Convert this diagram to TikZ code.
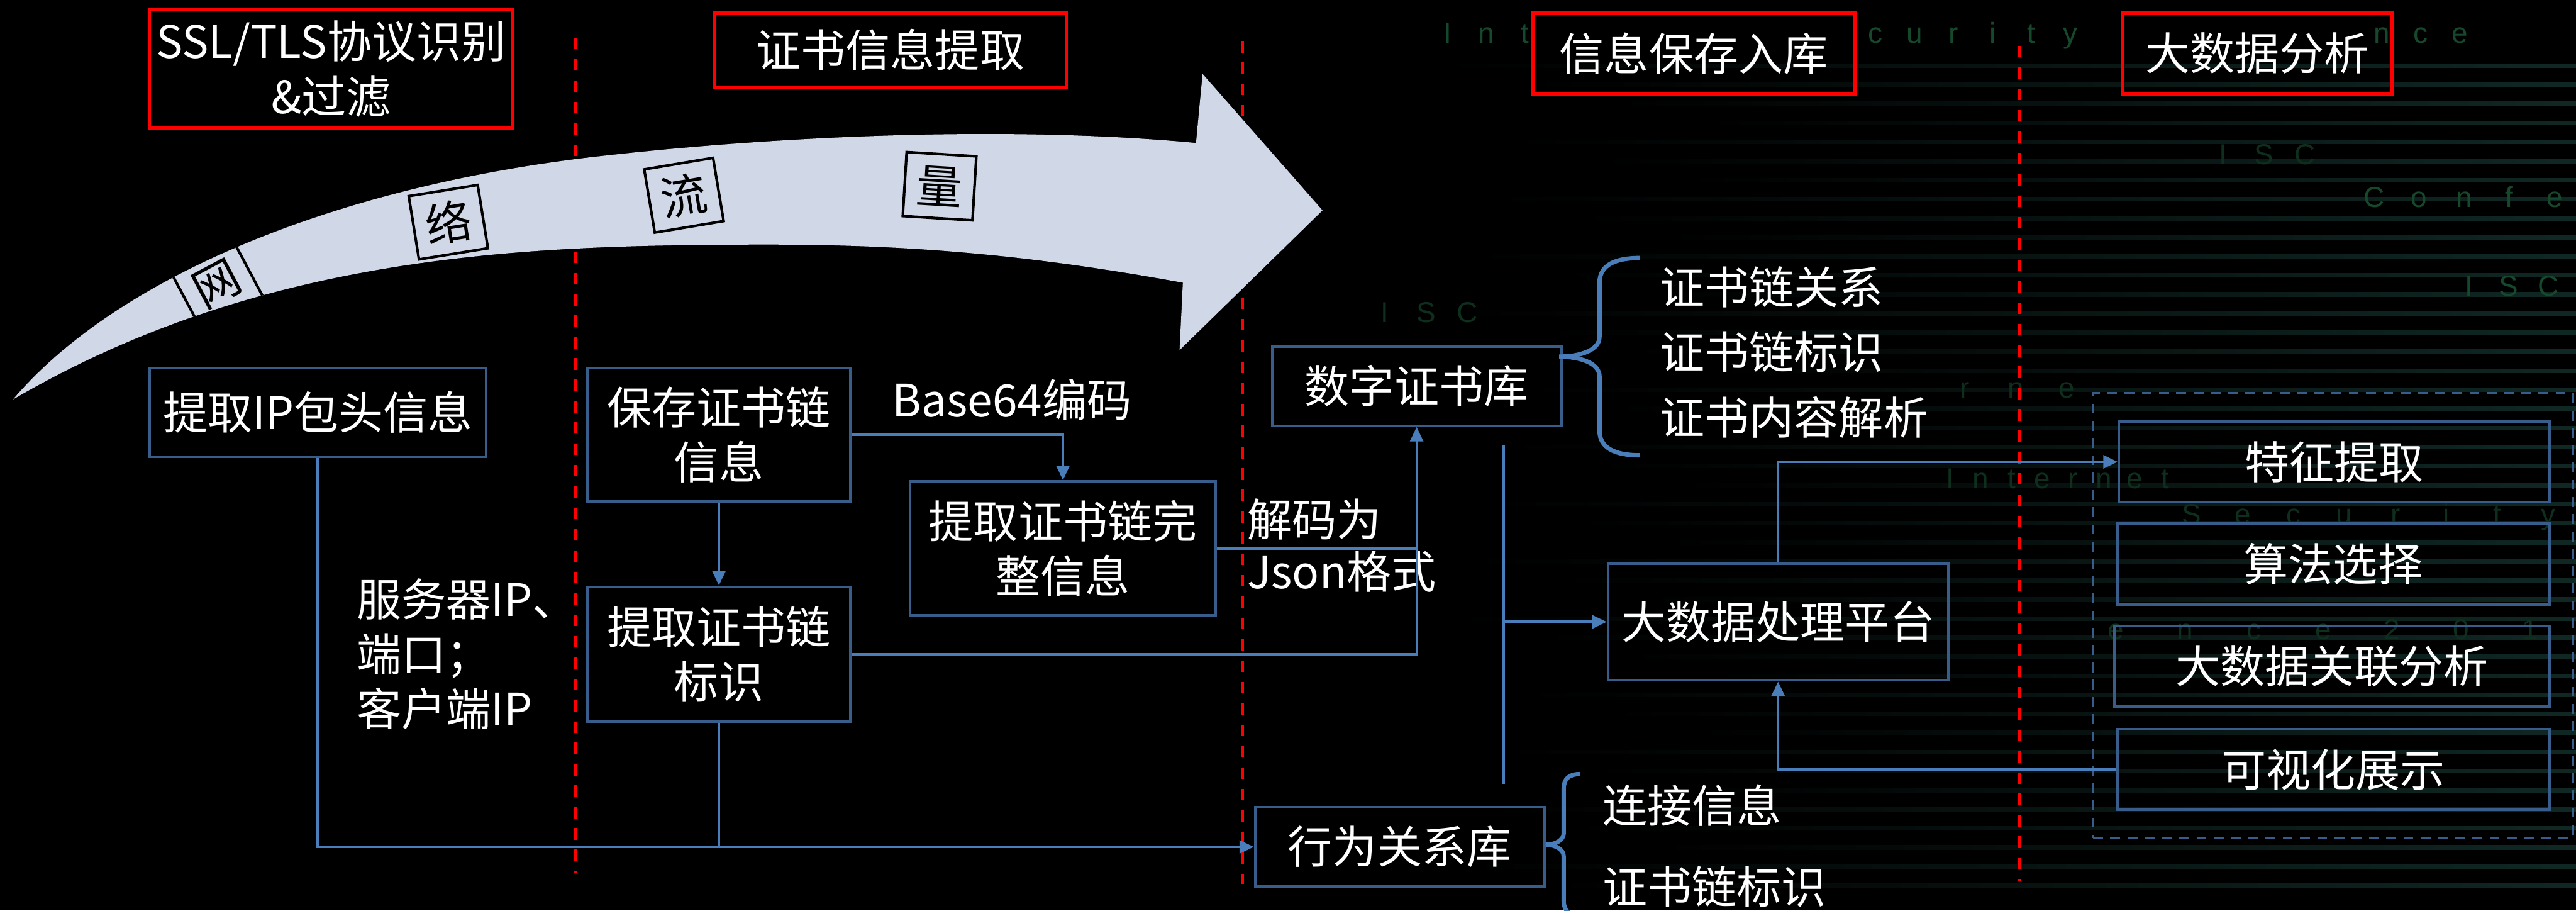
\documentclass[tikz,border=0pt]{standalone}
\usepackage{fontspec}
\setmainfont{Noto Sans CJK SC}
\newfontfamily\bgfont{Liberation Sans}
\usetikzlibrary{arrows.meta,calc}
\definecolor{bxb}{RGB}{56,93,138}
\definecolor{lnb}{RGB}{74,126,187}
\definecolor{arw}{RGB}{208,216,232}
\definecolor{bgg}{RGB}{22,72,44}
\definecolor{bgd}{RGB}{14,46,30}
\definecolor{bgl}{RGB}{16,40,36}
\begin{document}
\begin{tikzpicture}[x=0.02cm,y=-0.02cm,
  every node/.style={font=\fontsize{15.5pt}{19pt}\selectfont, text=white, inner sep=0pt},
  wh/.style 2 args={minimum width=#1*0.02cm, minimum height=#2*0.02cm},
  bbox/.style={draw=bxb, line width=0.9pt, align=center},
  rbox/.style={draw=red, line width=1.2pt, align=center},
  conn/.style={draw=lnb, line width=0.9pt},
  arr/.style={conn, -{Triangle[length=5pt,width=4.5pt]}},
  rdash/.style={draw=red, line width=1pt, dash pattern=on 0.14cm off 0.12cm},
  tbox/.style={draw=black, line width=0.9pt, wh={42.5}{39}, text=black, font=\fontsize{16pt}{16pt}\selectfont},
  bgt/.style={text=bgg, font=\bgfont\fontsize{10pt}{10pt}\selectfont, text height=7pt, text depth=0pt},
  bgt2/.style={text=bgd, font=\bgfont\fontsize{10pt}{10pt}\selectfont, text height=7pt, text depth=0pt},
  brc/.style={draw=lnb, line width=1.5pt},
]
% background
\fill[black] (0,0) rectangle (1568,554);
\useasboundingbox (0,0) rectangle (1568,554);
\foreach \k in {0,...,43}{
  \pgfmathsetmacro{\yy}{40+11.6*\k}
  \pgfmathsetmacro{\xs}{880+mod(\k*53,170)}
  \shade[left color=black, right color=bgl] (\xs,\yy-1.2) rectangle (1568,\yy+1.2);
}
\foreach \c [count=\i from 0] in {I,n,t} \node[bgt] (ta\i) at ({881+23.7*\i},20) {\c};
\foreach \c [count=\i from 11] in {c,u,r,i,t,y} \node[bgt] (tb\i) at ({881+23.7*\i},20) {\c};
\foreach \c [count=\i from 24] in {n,c,e} \node[bgt] (tc\i) at ({881+23.7*\i},20) {\c};
\foreach \c [count=\i from 0] in {I,S,C} \node[bgt2] (td\i) at ({1353+25*\i},94) {\c};
\foreach \c [count=\i from 0] in {C,o,n,f,e} \node[bgt] (te\i) at ({1445+27.5*\i},120) {\c};
\foreach \c [count=\i from 0] in {I,S,C} \node[bgt] (tf\i) at ({1503+24*\i},174) {\c};
\foreach \c [count=\i from 0] in {I,S,C} \node[bgt2] (tg\i) at ({843+25*\i},190) {\c};
\foreach \c [count=\i from 4] in {r,n,e} \node[bgt2] (th\i) at ({1072+31*\i},236) {\c};
\foreach \c [count=\i from 0] in {I,n,t,e,r,n,e,t} \node[bgt2] (ti\i) at ({1187+18.7*\i},291) {\c};
\foreach \c [count=\i from 0] in {S,e,c,u,r,i,t,y} \node[bgt2] (tj\i) at ({1334+31*\i},313) {\c};
\foreach \c [count=\i from 0] in {e,n,c,e,2,0,1} \node[bgt2] (tk\i) at ({1288+42*\i},383) {\c};

% red dashed separators
\draw[rdash] (350,23) -- (350,531);
\draw[rdash] (756.3,25) -- (756.3,538);
\draw[rdash] (1229,28) -- (1229,536);

% big curved arrow
\path[fill=arw] (8,243) .. controls (70,170) and (200,115) .. (357,96)
  .. controls (450,85) and (600,75) .. (728,87) -- (732,45) -- (805,128) -- (718,213) -- (720,172)
  .. controls (600,150) and (520,148) .. (433,149)
  .. controls (300,150) and (150,160) .. (8,243) -- cycle;
\begin{scope}
\clip (8,243) .. controls (70,170) and (200,115) .. (357,96)
  .. controls (450,85) and (600,75) .. (728,87) -- (732,45) -- (805,128) -- (718,213) -- (720,172)
  .. controls (600,150) and (520,148) .. (433,149)
  .. controls (300,150) and (150,160) .. (8,243) -- cycle;
\node[tbox, rotate=28] (n1) at (132,173) {网};
\node[tbox, rotate=9.2] (n2) at (272.9,135.2) {络};
\node[tbox, rotate=9.5] (n3) at (416.3,118.8) {流};
\node[tbox, rotate=-3.5] (n4) at (571.9,113.3) {量};
\end{scope}

% header boxes
\node[rbox, wh={221}{72}] (R1) at (201.5,42) {SSL/TLS协议识别\\\&过滤};
\node[rbox, wh={214}{45}] (R2) at (542,30.5) {证书信息提取};
\node[rbox, wh={196}{49}] (R3) at (1031,32.5) {信息保存入库};
\node[rbox, wh={164}{49}] (R4) at (1374,32.5) {大数据分析};

% process boxes
\node[bbox, wh={205}{54}] (A) at (193.5,251) {提取IP包头信息};
\node[bbox, wh={160}{81}] (B) at (437.6,264.5) {保存证书链\\信息};
\node[bbox, wh={160}{82}] (C) at (437.6,398) {提取证书链\\标识};
\node[bbox, wh={186}{81.5}] (D) at (647,333.7) {提取证书链完\\整信息};
\node[bbox, wh={176}{48}] (E) at (862.3,235) {数字证书库};
\node[bbox, wh={207}{71}] (F) at (1082.3,378.4) {大数据处理平台};
\node[bbox, wh={176}{48}] (G) at (852,515.3) {行为关系库};
\node[draw=bxb, line width=0.9pt, dash pattern=on 0.12cm off 0.09cm, wh={292}{270.5}] (grp) at (1420,374.55) {};
\node[bbox, wh={262}{49}] (H) at (1420.8,281) {特征提取};
\node[bbox, wh={263}{49}] (I) at (1420.2,343.2) {算法选择};
\node[bbox, wh={265}{49}] (J) at (1419.5,405.4) {大数据关联分析};
\node[bbox, wh={263}{49}] (K) at (1420.2,468.3) {可视化展示};

% labels
\node (L1) at (616,243) {Base64编码};
\node[anchor=west, align=left] (L2) at (216.8,398) {服务器IP、\\端口；\\客户端IP};
\node[anchor=west, align=left, font=\fontsize{15.5pt}{18pt}\selectfont] (L3) at (759,332) {解码为\\Json格式};
\node[anchor=west] (L4) at (1010,174.6) {证书链关系};
\node[anchor=west] (L5) at (1010,214) {证书链标识};
\node[anchor=west] (L6) at (1010,253.8) {证书内容解析};
\node[anchor=west] (L7) at (975.2,490) {连接信息};
\node[anchor=west] (L8) at (975.2,539.5) {证书链标识};

% connectors
\draw[arr] (A.south) |- (G.west);
\draw[conn] (C.south) -- (C.south |- G.west);
\draw[arr] (B.south) -- (C.north);
\draw[arr] (B.east) -| (D.north);
\draw[conn] (D.east) -- (D.east -| E.south);
\draw[arr] (C.east) -| (E.south);
\coordinate (bt) at (915.4,270.7);
\coordinate (bb) at (915.4,477);
\draw[conn] (bt) -- (bb);
\draw[arr] (bt |- F.west) -- (F.west);
\draw[arr] (F.north) |- (H.west);
\draw[arr] (K.west) -| (F.south);

% braces
\draw[brc] (998,157) .. controls (982,157) and (973.6,162) .. (973.6,172) -- (973.6,205)
  .. controls (973.6,213) and (962,217) .. (949,217)
  .. controls (962,217) and (973.6,221) .. (973.6,229) -- (973.6,262)
  .. controls (973.6,272) and (982,277) .. (998,277);
\draw[brc] (961.6,471) .. controls (955,471) and (951.8,474) .. (951.8,480) -- (951.8,507)
  .. controls (951.8,511) and (947,514) .. (940.8,514)
  .. controls (947,514) and (951.8,517) .. (951.8,521) -- (951.8,548)
  .. controls (951.8,554) and (955,557) .. (961.6,557);
\end{tikzpicture}
\end{document}
